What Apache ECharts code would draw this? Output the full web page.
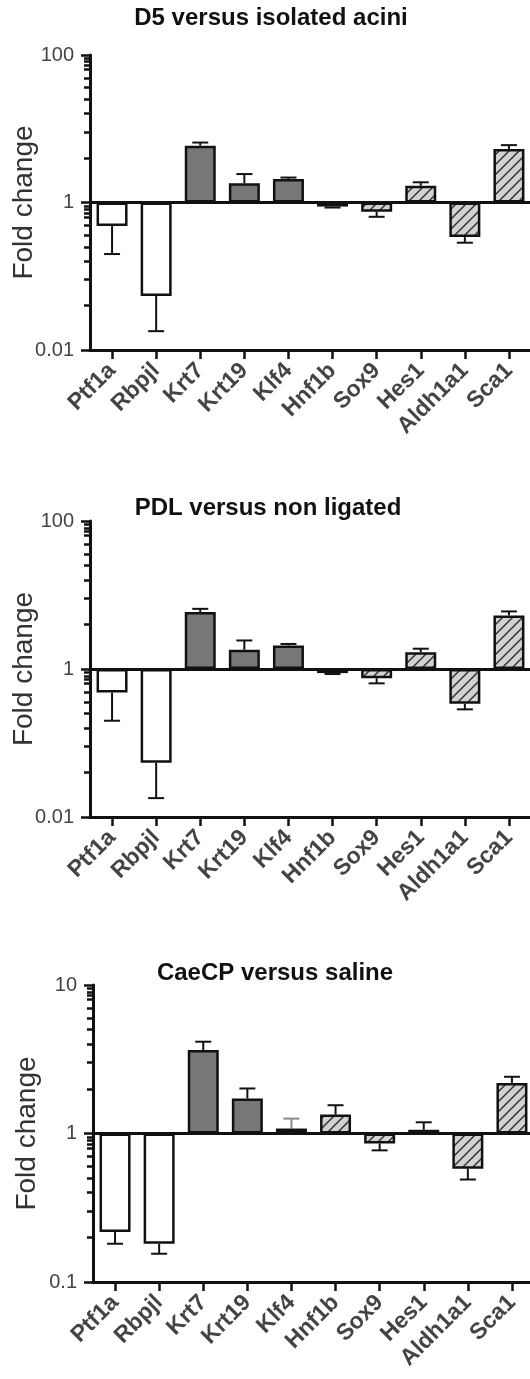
<!DOCTYPE html>
<html><head><meta charset="utf-8">
<script src="https://cdn.jsdelivr.net/npm/echarts@6/dist/echarts.min.js"></script>
<style>html,body{margin:0;padding:0;background:#fff}#c{width:530px;height:1379px}</style>
</head><body><div id="c"></div>
<script>
// ---- data ----
const categories = ['Ptf1a','Rbpjl','Krt7','Krt19','Klf4','Hnf1b','Sox9','Hes1','Aldh1a1','Sca1'];
const fillGroups = ['open','open','solid','solid','solid','hatch','hatch','hatch','hatch','hatch'];
const panelTitles = ['D5 versus isolated acini','PDL versus non ligated','CaeCP versus saline'];

const d5Values     = [0.48, 0.054, 5.9, 1.82, 2.08, 0.88, 0.75, 1.69, 0.34, 5.3];
const d5ErrorEnds  = [0.20, 0.018, 6.5, 2.43, 2.18, 0.855, 0.64, 1.88, 0.285, 6.0];
const pdlValues    = [0.48, 0.054, 5.9, 1.82, 2.08, 0.88, 0.75, 1.69, 0.34, 5.3];
const pdlErrorEnds = [0.20, 0.018, 6.5, 2.43, 2.18, 0.855, 0.64, 1.88, 0.285, 6.0];
const caeValues    = [0.217, 0.181, 3.65, 1.72, 1.08, 1.34, 0.857, 1.06, 0.58, 2.19];
const caeErrorEnds = [0.181, 0.155, 4.15, 2.01, 1.26, 1.55, 0.77, 1.19, 0.49, 2.41];

const majorTicksWide = [0.01, 1, 100];
const minorTicksWide = [0.04,0.09,0.16,0.25,0.36,0.49,0.64,0.72,0.81,0.9, 4,9,16,25,36,49,64,72,81,90];
const majorTicksNarrow = [0.1, 1, 10];
const minorTicksNarrow = [0.2,0.3,0.4,0.5,0.6,0.7,0.8,0.85,0.9,0.95, 2,3,4,5,6,7,8,8.5,9,9.5];

// ---- styles ----
function hatchPattern(){
  const s = 10, c = document.createElement('canvas');
  c.width = c.height = s;
  const g = c.getContext('2d');
  g.fillStyle = '#d2d2d2'; g.fillRect(0,0,s,s);
  g.strokeStyle = '#333'; g.lineWidth = 1.5;
  g.beginPath();
  g.moveTo(0,s); g.lineTo(s,0);
  g.moveTo(-2,2); g.lineTo(2,-2);
  g.moveTo(s-2,s+2); g.lineTo(s+2,s-2);
  g.stroke();
  return {image: c, repeat: 'repeat'};
}
const fills = {open: '#ffffff', solid: '#777777', hatch: hatchPattern()};
const FONT = 'Liberation Sans, Arial, sans-serif';

const panels = [
  {title: panelTitles[0], values: d5Values, errs: d5ErrorEnds, min: 0.01, max: 100, major: majorTicksWide, minor: minorTicksWide,
   grid: {left: 90, top: 55, width: 441, height: 295}, titleTop: 6, titleX: 271, errColor: {}},
  {title: panelTitles[1], values: pdlValues, errs: pdlErrorEnds, min: 0.01, max: 100, major: majorTicksWide, minor: minorTicksWide,
   grid: {left: 90, top: 521, width: 441, height: 296}, titleTop: 496, titleX: 268, errColor: {}},
  {title: panelTitles[2], values: caeValues, errs: caeErrorEnds, min: 0.1, max: 10, major: majorTicksNarrow, minor: minorTicksNarrow,
   grid: {left: 93, top: 985, width: 441, height: 297}, titleTop: 961, titleX: 275, errColor: {4: '#8a8a8a'}}
];

const option = {
  animation: false,
  backgroundColor: '#fff',
  title: [], grid: [], xAxis: [], yAxis: [], series: []
};

panels.forEach((p, k) => {
  option.title.push({text: p.title, left: p.titleX, top: p.titleTop, textAlign: 'center', padding: 0,
    textStyle: {fontSize: 24, fontWeight: 'bold', color: '#111', fontFamily: FONT}});
  option.grid.push(Object.assign({containLabel: false, outerBoundsMode: 'none'}, p.grid));
  option.xAxis.push({
    type: 'category', gridIndex: k, data: categories, position: 'bottom',
    axisLine: {show: true, lineStyle: {color: '#111', width: 3}},
    axisTick: {show: true, alignWithLabel: true, length: 9, lineStyle: {color: '#111', width: 2.5}},
    axisLabel: {rotate: 45, interval: 0, fontSize: 23, fontWeight: 'bold', color: '#444', fontFamily: FONT, margin: 17}
  });
  option.yAxis.push({
    type: 'log', logBase: 10, gridIndex: k, min: p.min, max: p.max, position: 'left', offset: 0,
    axisLine: {show: true, lineStyle: {color: '#111', width: 3}},
    axisTick: {show: true, customValues: p.major, length: 9, lineStyle: {color: '#111', width: 2.5}},
    axisLabel: {customValues: p.major, fontSize: 20, color: '#444', fontFamily: FONT, margin: 16,
      formatter: v => v >= 1 ? String(Math.round(v)) : String(+(+v).toPrecision(2))},
    splitLine: {show: false},
    name: 'Fold change', nameLocation: 'middle', nameGap: 52, nameMoveOverlap: false,
    nameTextStyle: {fontSize: 28, color: '#333', fontFamily: FONT}
  });
  option.yAxis.push({
    type: 'log', logBase: 10, gridIndex: k, min: p.min, max: p.max, position: 'left', offset: 0,
    axisLine: {show: false},
    axisTick: {show: true, customValues: p.minor, length: 6, lineStyle: {color: '#111', width: 2.5}},
    axisLabel: {show: false}, splitLine: {show: false}
  });
  option.series.push({
    type: 'bar', xAxisIndex: k, yAxisIndex: 2*k, barWidth: 31,
    data: p.values.map((v, i) => ({value: v, itemStyle: {color: fills[fillGroups[i]]}})),
    itemStyle: {borderColor: '#111', borderWidth: 2.5},
    markLine: {silent: true, symbol: 'none', label: {show: false},
      lineStyle: {color: '#111', width: 3, type: 'solid'}, data: [{yAxis: 1}]}
  });
  option.series.push({
    type: 'custom', xAxisIndex: k, yAxisIndex: 2*k,
    data: p.values.map((v, i) => [i, v, p.errs[i]]),
    encode: {x: 0, y: [1, 2]},
    renderItem: (params, api) => {
      const a = api.coord([api.value(0), api.value(1)]);
      const b = api.coord([api.value(0), api.value(2)]);
      const w = 8;
      const col = p.errColor[params.dataIndex] || '#111';
      return {type: 'group', children: [
        {type: 'line', shape: {x1: a[0], y1: a[1], x2: b[0], y2: b[1]}, style: {stroke: col, lineWidth: 2}},
        {type: 'line', shape: {x1: b[0]-w, y1: b[1], x2: b[0]+w, y2: b[1]}, style: {stroke: col, lineWidth: 2}}
      ]};
    }
  });
});

const chart = echarts.init(document.getElementById('c'), null, {renderer: 'canvas'});
chart.setOption(option);
</script>
</body></html>
